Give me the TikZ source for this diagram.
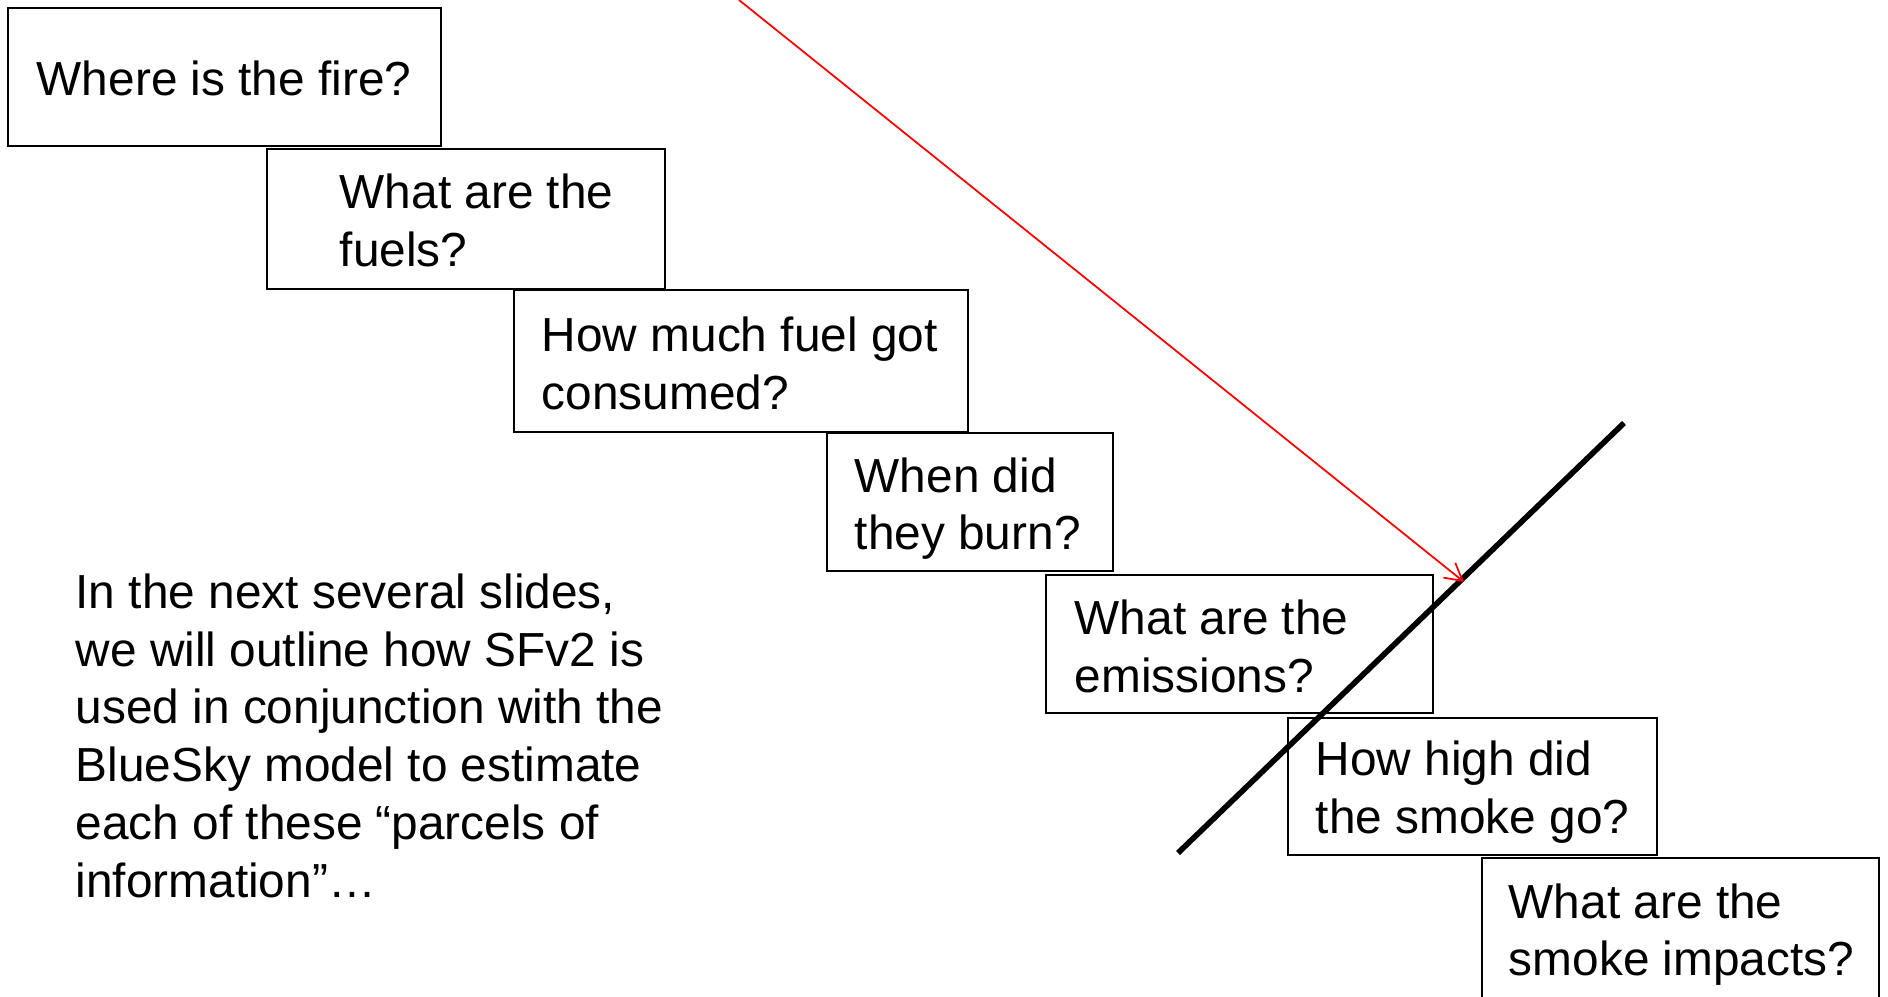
\documentclass[tikz,border=0pt]{standalone}
\usepackage{fontspec}
\setmainfont{Liberation Sans}
\usepackage{tikz}
\usetikzlibrary{arrows.meta,positioning}
\definecolor{slideRed}{HTML}{FF0000}

\begin{document}
\begin{tikzpicture}[font=\fontsize{13.6pt}{16.45pt}\selectfont,
  qbox/.style={draw, line width=0.5pt, inner sep=0pt},
  qtext/.style={align=left, inner sep=0pt}]
\useasboundingbox (0,0) rectangle (18.88,-9.97);
% the question boxes, going down the slide
\node[qbox, minimum width=4.33cm, minimum height=1.38cm] (fire) at (2.245,-0.77) {};
\node[qtext, right=0.29cm of fire.west, yshift=-0.012cm] (fireT) {Where is the fire?};
\node[qbox, minimum width=3.98cm, minimum height=1.40cm] (fuels) at (4.66,-2.19) {};
\node[qtext, right=0.73cm of fuels.west, yshift=-0.018cm] (fuelsT) {What are the\\fuels?};
\node[qbox, minimum width=4.54cm, minimum height=1.42cm] (consumed) at (7.41,-3.61) {};
\node[qtext, right=0.28cm of consumed.west, yshift=-0.024cm] (consumedT) {How much fuel got\\consumed?};
\node[qbox, minimum width=2.86cm, minimum height=1.38cm] (burn) at (9.70,-5.02) {};
\node[qtext, right=0.28cm of burn.west, yshift=-0.066cm] (burnT) {When did\\they burn?};
\node[qbox, minimum width=3.87cm, minimum height=1.38cm] (emis) at (12.395,-6.44) {};
\node[qtext, right=0.29cm of emis.west, yshift=-0.024cm] (emisT) {What are the\\emissions?};
\node[qbox, minimum width=3.69cm, minimum height=1.37cm] (plume) at (14.725,-7.865) {};
\node[qtext, right=0.28cm of plume.west, yshift=-0.054cm] (plumeT) {How high did\\the smoke go?};
\node[qbox, minimum width=3.97cm, minimum height=1.46cm] (impact) at (16.805,-9.31) {};
\node[qtext, right=0.27cm of impact.west, yshift=-0.036cm] (impactT) {What are the\\smoke impacts?};
% text on the left
\node[qtext, anchor=north west] (intro) at (0.75,-5.73) {In the next several slides,\\we will outline how SFv2 is\\used in conjunction with the\\BlueSky model to estimate\\each of these “parcels of\\information”…};
% cut line and red arrow
\coordinate (lineLow) at (11.78,-8.53);
\coordinate (lineHigh) at (16.24,-4.23);
\coordinate (redStart) at (7.39,0);
\coordinate (redTip) at (14.64,-5.82);
\draw[line width=1.6pt] (lineLow) -- (lineHigh);
\draw[slideRed, line width=0.5pt, -{Straight Barb[length=1.7mm, width=1.9mm]}] (redStart) -- (redTip);
\end{tikzpicture}
\end{document}
